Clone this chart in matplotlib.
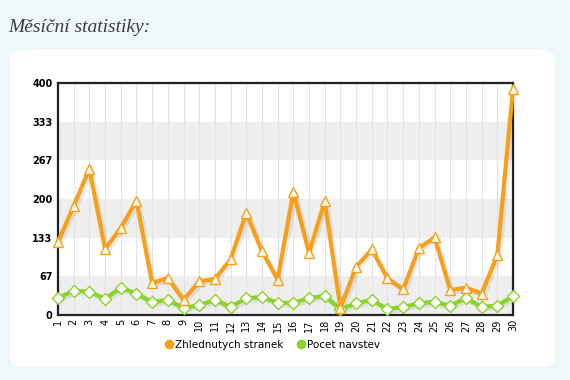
import matplotlib.pyplot as plt
from matplotlib.patches import FancyBboxPatch
from matplotlib.lines import Line2D

# Daily values
days = list(range(1, 31))
page_views = [126, 188, 252, 114, 150, 197, 55, 64, 26, 58, 62, 96, 176, 110, 61,
              212, 107, 196, 12, 83, 113, 63, 44, 115, 134, 43, 47, 37, 103, 390]
visits = [29, 42, 40, 28, 47, 37, 22, 26, 12, 17, 26, 14, 29, 31, 21,
          21, 29, 33, 10, 20, 26, 10, 14, 20, 23, 16, 29, 14, 16, 32]
y_ticks = [0, 67, 133, 200, 267, 333, 400]

orange = "#f7a01c"
green = "#8ad42a"

fig = plt.figure(figsize=(5.7, 3.8), dpi=100)
fig.patch.set_facecolor("#eef7f9")

# White rounded panel behind the chart
panel = FancyBboxPatch((10 / 570, 1 - 367 / 380), 545 / 570, 317 / 380,
                       boxstyle="round,pad=0,rounding_size=0.025",
                       transform=fig.transFigure, facecolor="white",
                       edgecolor="none", zorder=-5)
fig.patches.append(panel)

fig.text(8 / 570, 1 - 28 / 380, "Měsíční statistiky:", family="Liberation Serif",
         style="italic", fontsize=14, color="#3c3c3c", va="center")

ax = fig.add_axes([58 / 570, 1 - 315 / 380, 455 / 570, 232 / 380])
ax.set_zorder(2)
ax.set_facecolor("white")

# Alternating bands
for i in range(0, len(y_ticks) - 1, 2):
    ax.axhspan(y_ticks[i], y_ticks[i + 1], color="#efefef", zorder=0, lw=0)
for d in days:
    ax.axvline(d, color="#e3e3e3", lw=0.8, zorder=0.5)

# Shadows
ax.plot([d + 0.12 for d in days], [v - 3 for v in page_views], color="#000000",
        alpha=0.08, lw=4, zorder=1, solid_joinstyle="round")
ax.plot([d + 0.12 for d in days], [v - 3 for v in visits], color="#000000",
        alpha=0.08, lw=4, zorder=1, solid_joinstyle="round")

ax.plot(days, visits, color=green, lw=3, marker="D", ms=6, mfc="white",
        mec=green, mew=1, zorder=3, solid_joinstyle="round", clip_on=False)
ax.plot(days, page_views, color=orange, lw=3, marker="^", ms=7.5, mfc="#fffbe8",
        mec=orange, mew=1, zorder=4, solid_joinstyle="round", clip_on=False)

ax.set_xlim(1, 30)
ax.set_ylim(0, 400)
ax.set_xticks(days)
ax.set_xticklabels([str(d) for d in days], rotation=90, fontsize=7)
ax.set_yticks(y_ticks)
ax.set_yticklabels([str(t) for t in y_ticks], fontsize=7, fontweight="bold")
ax.tick_params(axis="x", length=0, pad=3)
ax.tick_params(axis="y", length=0, pad=4)
for s in ax.spines.values():
    s.set_color("#222222")
    s.set_linewidth(1.6)
    s.set_zorder(2)

handles = [Line2D([], [], ls="none", marker="o", ms=6, color=orange),
           Line2D([], [], ls="none", marker="o", ms=6, color=green)]
fig.legend(handles, ["Zhlednutych stranek", "Pocet navstev"], loc="center",
           bbox_to_anchor=(272 / 570, 1 - 345 / 380), ncol=2, frameon=False,
           fontsize=7.5, handletextpad=0.05, columnspacing=1.2, handlelength=1)

fig.savefig("out.png", dpi=100, facecolor=fig.get_facecolor())
